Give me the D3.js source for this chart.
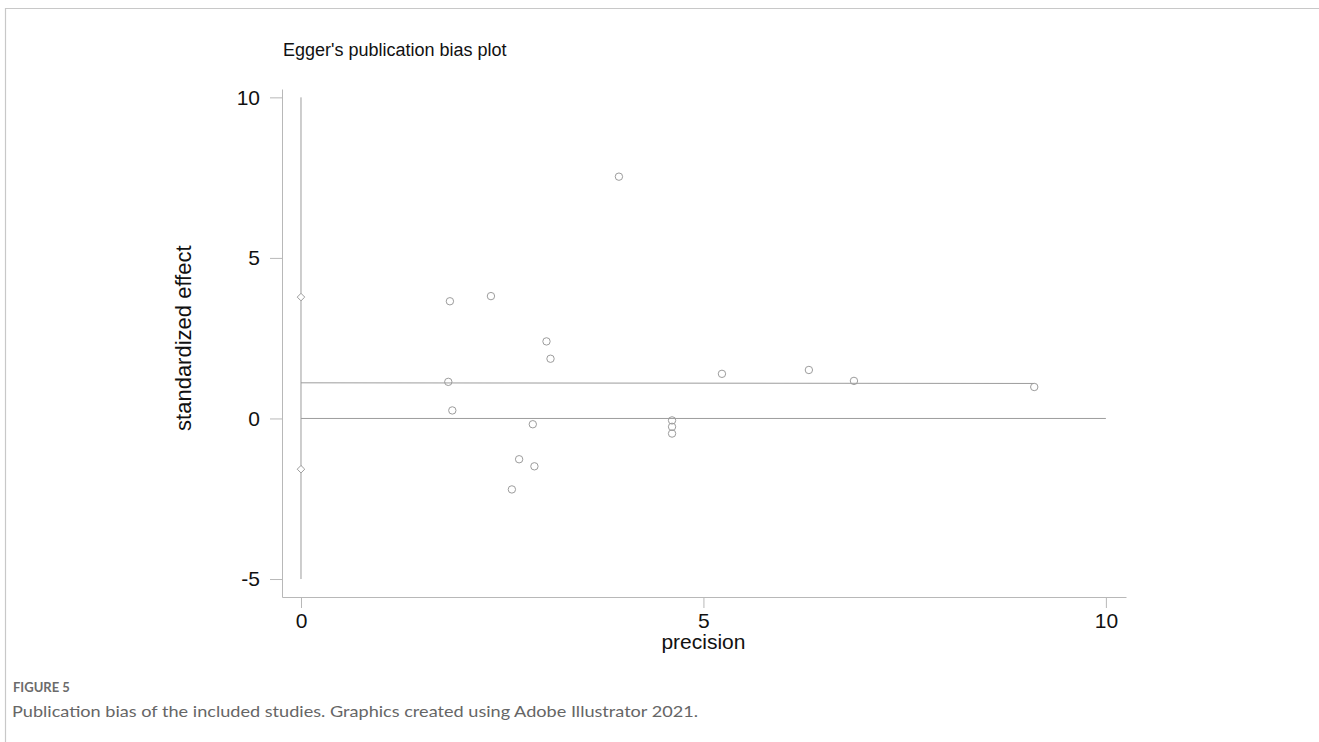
<!DOCTYPE html>
<html>
<head>
<meta charset="utf-8">
<script src="https://cdn.jsdelivr.net/npm/d3@7"></script>
<style>
  html, body { margin: 0; padding: 0; background: #fff; }
  svg { display: block; }
</style>
</head>
<body>
<svg id="chart" width="1319" height="742"></svg>
<script>
// Egger's test: standardized effect against precision for each study
const precision = [3.95, 1.85, 2.36, 3.05, 3.10, 1.83, 1.88, 2.88, 4.61, 4.61, 4.61, 2.71, 2.90, 2.62, 5.23, 6.31, 6.87, 9.11];
const stdEffect = [7.53, 3.65, 3.81, 2.40, 1.86, 1.14, 0.25, -0.18, -0.06, -0.26, -0.47, -1.27, -1.49, -2.21, 1.39, 1.51, 1.17, 0.98];

// fitted regression line (from precision 0 to the largest precision)
const fitX = [0, 9.11];
const fitY = [1.11, 1.09];

// 95% confidence interval of the intercept, marked at precision 0
const interceptCI = [-1.58, 3.78];

// reference lines
const refVertical = [-5, 10];   // at precision 0
const refHorizontal = [0, 10];  // at effect 0

const xTicks = [0, 5, 10];
const yTicks = [-5, 0, 5, 10];

const titleText = "Egger's publication bias plot";
const xTitle = "precision";
const yTitle = "standardized effect";
const figLabel = "FIGURE 5";
const caption = "Publication bias of the included studies. Graphics created using Adobe Illustrator 2021.";

const svg = d3.select("#chart");
const grey = "#9c9c9c";
const axisGrey = "#b8b8b8";
const tickFmt = d => String(d); // plain hyphen for negatives

// figure frame (top and left rules)
svg.append("path")
  .attr("d", "M5.5,742 V8.5 H1319")
  .attr("fill", "none")
  .attr("stroke", "#c8c8c8")
  .attr("stroke-width", 1.2);

const x = d3.scaleLinear().domain([-0.236, 10.25]).range([282, 1126]);
const y = d3.scaleLinear().domain([-5.56, 10.26]).range([597, 89]);

// axes
const xAxis = svg.append("g")
  .attr("transform", `translate(0,${y.range()[0]})`)
  .call(d3.axisBottom(x).tickValues(xTicks).tickSizeInner(11).tickSizeOuter(0).tickPadding(5).tickFormat(tickFmt));
const yAxis = svg.append("g")
  .attr("transform", `translate(${x.range()[0]},0)`)
  .call(d3.axisLeft(y).tickValues(yTicks).tickSizeInner(12).tickSizeOuter(0).tickPadding(10).tickFormat(tickFmt));

[xAxis, yAxis].forEach(g => {
  g.select(".domain").attr("stroke", axisGrey).attr("stroke-width", 1);
  g.selectAll(".tick line").attr("stroke", axisGrey).attr("stroke-width", 1);
  g.selectAll(".tick text")
    .attr("fill", "#111")
    .style("font-family", "'Liberation Sans', Arial, sans-serif")
    .style("font-size", "21px");
});

// reference lines
svg.append("line")
  .attr("x1", x(0)).attr("x2", x(0))
  .attr("y1", y(refVertical[0])).attr("y2", y(refVertical[1]))
  .attr("stroke", grey).attr("stroke-width", 1);
svg.append("line")
  .attr("x1", x(refHorizontal[0])).attr("x2", x(refHorizontal[1]))
  .attr("y1", y(0)).attr("y2", y(0))
  .attr("stroke", grey).attr("stroke-width", 1);

// regression line
svg.append("line")
  .attr("x1", x(fitX[0])).attr("x2", x(fitX[1]))
  .attr("y1", y(fitY[0])).attr("y2", y(fitY[1]))
  .attr("stroke", grey).attr("stroke-width", 1);

// intercept confidence limits as small diamonds
svg.append("g").selectAll("path")
  .data(interceptCI)
  .join("path")
  .attr("transform", d => `translate(${x(0)},${y(d)})`)
  .attr("d", d3.symbol(d3.symbolDiamond2, 36))
  .attr("fill", "#fff")
  .attr("stroke", grey)
  .attr("stroke-width", 1);

// study points
svg.append("g").selectAll("circle")
  .data(precision.map((p, i) => ({ p, e: stdEffect[i] })))
  .join("circle")
  .attr("cx", d => x(d.p))
  .attr("cy", d => y(d.e))
  .attr("r", 3.7)
  .attr("fill", "none")
  .attr("stroke", grey)
  .attr("stroke-width", 1);

// titles
svg.append("text")
  .attr("x", 283).attr("y", 56)
  .attr("fill", "#111")
  .style("font-family", "'Liberation Sans', Arial, sans-serif")
  .style("font-size", "18px")
  .text(titleText);

svg.append("text")
  .attr("x", x(5)).attr("y", 649)
  .attr("text-anchor", "middle")
  .attr("fill", "#111")
  .style("font-family", "'Liberation Sans', Arial, sans-serif")
  .style("font-size", "21px")
  .text(xTitle);

svg.append("text")
  .attr("transform", `translate(191,${y(2.5)}) rotate(-90)`)
  .attr("text-anchor", "middle")
  .attr("fill", "#111")
  .style("font-family", "'Liberation Sans', Arial, sans-serif")
  .style("font-size", "22px")
  .text(yTitle);

// figure caption
svg.append("text")
  .attr("x", 13).attr("y", 692)
  .attr("fill", "#6b6b6b")
  .style("font-family", "Lato, 'Open Sans', sans-serif")
  .style("font-weight", "700")
  .style("font-size", "13px")
  .text(figLabel);

svg.append("text")
  .attr("x", 12).attr("y", 717)
  .attr("fill", "#666")
  .style("font-family", "Lato, 'Open Sans', sans-serif")
  .style("font-size", "16px")
  .attr("textLength", 686)
  .attr("lengthAdjust", "spacingAndGlyphs")
  .text(caption);
</script>
</body>
</html>
